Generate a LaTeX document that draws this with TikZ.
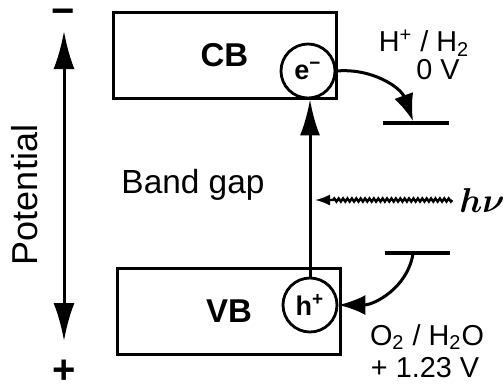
\documentclass[tikz,border=0pt]{standalone}
\usepackage{amsmath,amssymb}
\usepackage{fontspec}
\setmainfont{Liberation Sans}
\usepackage{tikz}
\usetikzlibrary{arrows.meta, positioning, decorations.pathmorphing}

\begin{document}
\begin{tikzpicture}[
    x=0.5pt, y=-0.5pt, % one unit = one pixel of the sketch
    band/.style={rectangle, draw=black, line width=1.5pt, minimum width=111.5pt, minimum height=43pt, font=\fontsize{16.5}{18}\selectfont\bfseries},
    carrier/.style={circle, draw=black, line width=1.4pt, minimum size=27pt, inner sep=0pt, font=\fontsize{13.5}{15}\selectfont\bfseries},
    level/.style={line width=1.6pt},
    redox/.style={font=\fontsize{14.4}{16}\selectfont},
    sign/.style={font=\fontsize{20}{22}\selectfont\bfseries, inner sep=1pt, anchor=base, text height=0.6em, text depth=0pt},
    bigtip/.style={line width=1.5pt, -{Latex[length=18pt, width=10pt]}},
    curvetip/.style={line width=1.5pt, -{Latex[length=13.5pt, width=10pt]}},
    photon/.style={line width=1.2pt, decorate, decoration={snake, amplitude=0.8pt, segment length=2.2pt, post length=8pt}, -{Latex[length=7.5pt, width=5.5pt]}}
]
    \useasboundingbox (0,0) rectangle (503,388);

    % Bands
    \node (cb) [band] at (224.5,55) {CB};
    \node (vb) [band] at (229,311.5) {VB};

    % Electron and hole
    \node (ecb) [carrier] at (308,71) {e\textsuperscript{−}};
    \node (hvb) [carrier] at (310,305) {h\textsuperscript{+}};

    % Potential axis
    \node (minus) [sign] at (63,24) {−};
    \node (plus) [sign] at (64,383) {+};
    \node (pot) [rotate=90, font=\fontsize{18}{20}\selectfont] at (25,195) {Potential};
    \coordinate (ptop) at (64,31);
    \coordinate (pbot) at (64,341);
    \draw [line width=1.5pt, {Latex[length=19pt, width=10.5pt]}-{Latex[length=19pt, width=10.5pt]}] (ptop) -- (pbot);

    \node (gap) [font=\fontsize{16.7}{18}\selectfont] at (193,185) {Band gap};

    % Redox levels
    \coordinate (h2l) at (383,123);
    \coordinate (h2r) at (449,123);
    \coordinate (h2mid) at (413,121);
    \coordinate (o2l) at (385,253);
    \coordinate (o2r) at (450,253);
    \coordinate (o2mid) at (413,254);
    \draw [level] (h2l) -- (h2r);
    \draw [level] (o2l) -- (o2r);

    \node (h2lab) [redox] at (424,43) {H\textsuperscript{+} / H\textsubscript{2}};
    \node (h2pot) [redox] at (438,70) {0 V};
    \node (o2lab) [redox] at (427,337) {O\textsubscript{2} / H\textsubscript{2}O};
    \node (o2pot) [redox] at (425,368) {+ 1.23 V};

    % Excitation
    \node (hv) [font=\fontsize{18}{20}\selectfont] at (482,200) {$\boldsymbol{h\nu}$};
    \coordinate (hit) at (315,200);
    \draw [photon] (hv.west) -- (hit);
    \draw [bigtip] (hvb.north) -- (hvb.north |- ecb.south);

    % Charge transfer
    \draw [curvetip] (ecb.east) to[out=5, in=110] (h2mid);
    \draw [curvetip] (o2mid) to[out=-100, in=0] (hvb.east);

\end{tikzpicture}
\end{document}
